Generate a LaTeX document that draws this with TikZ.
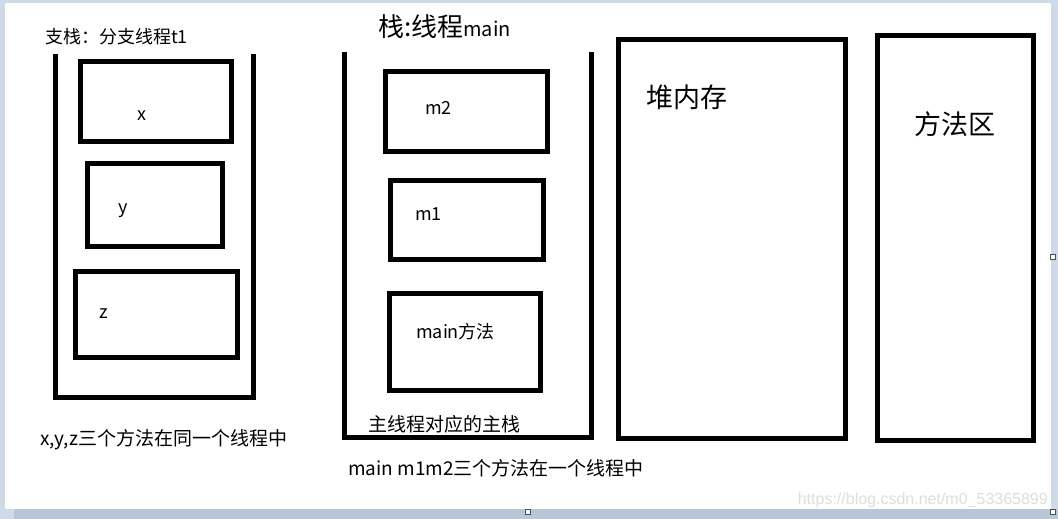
\documentclass[tikz,border=0pt]{standalone}
\usepackage{fontspec}
\setmainfont{Noto Sans CJK SC}
\newfontfamily\wmfont{Liberation Sans}
\definecolor{frame}{HTML}{CFD9E7}
\definecolor{frameshade}{HTML}{B9C6D8}
\begin{document}
\begin{tikzpicture}[x=1pt,y=-1pt,
  box/.style={draw,line width=5pt,inner sep=0pt},
  wall/.style={line width=5pt,line join=miter},
  lbl/.style={inner sep=0pt,anchor=base west,font=\fontsize{19}{22}\selectfont},
  big/.style={inner sep=0pt,anchor=base west,font=\fontsize{27}{30}\selectfont},
  handle/.style={draw=black!70,fill=white,line width=0.8pt,minimum size=5pt,inner sep=0pt}]
  \useasboundingbox (0,0) rectangle (1058,519);
  % paint window
  \fill[frame] (0,0) rectangle (1058,519);
  \fill[frameshade] (14,509) rectangle (1058,519);
  \fill[white] (5,3) rectangle (1051,509);
  \foreach \n/\hx/\hy in {h1/528/512,h2/1053/257,h3/1053/512}
    \node[handle] (\n) at (\hx,\hy) {};
  % stack of t1
  \draw[wall] (55.5,54) -- (55.5,397) -- (253.5,397) -- (253.5,54);
  \node[lbl,font=\fontsize{18}{21}\selectfont] (t1title) at (45,44) {支栈：分支线程t1};
  \foreach \n/\cx/\cy/\w/\h in {bx/155.75/101.5/150.5/80, by/155/205/135/83, bz/156.5/314.5/162/86}
    \node[box,minimum width=\w pt,minimum height=\h pt] (\n) at (\cx,\cy) {};
  \node[lbl,font=\fontsize{18}{21}\selectfont] (lx) at (137,121) {x};
  \node[lbl,font=\fontsize{18}{21}\selectfont] (ly) at (118,213) {y};
  \node[lbl,font=\fontsize{18}{21}\selectfont] (lz) at (99,318) {z};
  \node[lbl] (t1note) at (40,445) {x,y,z三个方法在同一个线程中};
  % main stack
  \draw[wall] (344.5,52) -- (344.5,437) -- (591.5,437) -- (591.5,52);
  \node[inner sep=0pt,anchor=base west] (maintitle) at (378,37)
    {\fontsize{26}{30}\selectfont 栈:线程\fontsize{20}{24}\selectfont main};
  \foreach \n/\cx/\cy/\w/\h in {bm2/466.5/111.5/162/80, bm1/467/220/153/79, bmain/465/342/151/97}
    \node[box,minimum width=\w pt,minimum height=\h pt] (\n) at (\cx,\cy) {};
  \node[lbl,font=\fontsize{18}{21}\selectfont] (lm2) at (425,114) {m2};
  \node[lbl,font=\fontsize{18}{21}\selectfont] (lm1) at (415,220) {m1};
  \node[lbl,font=\fontsize{18}{21}\selectfont] (lmain) at (416,338) {main方法};
  \node[lbl] (mainfoot) at (368,431) {主线程对应的主栈};
  \node[lbl] (mainnote) at (348,475) {main m1m2三个方法在一个线程中};
  % heap and method area
  \node[box,minimum width=227pt,minimum height=399pt] (heap) at (732,239) {};
  \node[big] (lheap) at (646,107) {堆内存};
  \node[box,minimum width=156pt,minimum height=405pt] (marea) at (955.5,238) {};
  \node[big] (lmarea) at (914,134) {方法区};
  \node[inner sep=0pt,anchor=base east,text=black!13,font=\wmfont\fontsize{16}{18}\selectfont]
    (wm) at (1048,504) {https://blog.csdn.net/m0\_53365899};
\end{tikzpicture}
\end{document}
